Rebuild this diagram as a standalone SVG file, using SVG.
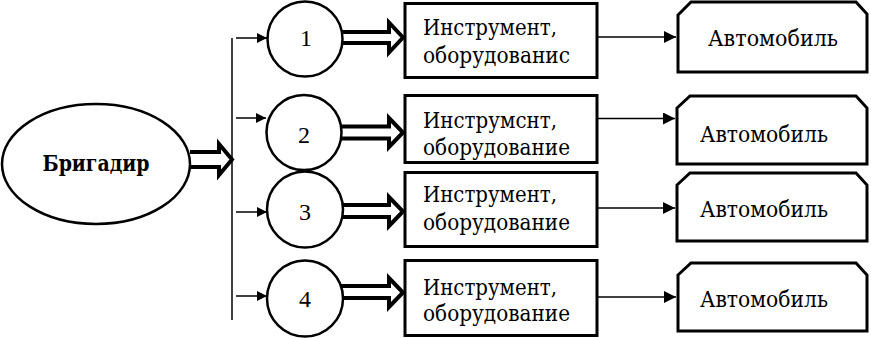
<svg xmlns="http://www.w3.org/2000/svg" width="871" height="338" viewBox="0 0 871 338">
<style>
.sh{fill:#fff;stroke:#000;stroke-width:2.5}
.bx{fill:#fff;stroke:#000;stroke-width:3}
.t{font-family:"DejaVu Serif","Liberation Serif",serif;font-size:22px;fill:#000}
.n{font-family:"Liberation Serif","DejaVu Serif",serif;font-size:24px;fill:#000;text-anchor:middle}
.b{font-family:"DejaVu Serif","Liberation Serif",serif;font-size:22px;font-weight:bold;fill:#000;text-anchor:middle}
.ln{fill:none;stroke:#000;stroke-width:1.5}
.ha{fill:#fff;stroke:#000;stroke-width:4;stroke-linejoin:miter}
</style>
<defs>
<marker id="ah" viewBox="0 0 12 12" refX="12" refY="6" markerWidth="12" markerHeight="12" markerUnits="userSpaceOnUse" orient="auto">
<path d="M0,0 L12,6 L0,12 Z" fill="#000"/>
</marker>
<marker id="ahs" viewBox="0 0 10 10" refX="10" refY="5" markerWidth="10" markerHeight="10" markerUnits="userSpaceOnUse" orient="auto">
<path d="M0,0 L10,5 L0,10 Z" fill="#000"/>
</marker>
</defs>
<g id="connectors">
<line class="ln" x1="232" y1="38" x2="232" y2="320"/>
<path class="ha" d="M190,152 H219 V144 L232,159.5 L219,175 V167 H190"/>
<line class="ln" x1="236" y1="38" x2="267" y2="38" marker-end="url(#ahs)"/>
<line class="ln" x1="236" y1="118" x2="266" y2="118" marker-end="url(#ahs)"/>
<line class="ln" x1="236" y1="212" x2="267" y2="212" marker-end="url(#ahs)"/>
<line class="ln" x1="236" y1="296" x2="267" y2="296" marker-end="url(#ahs)"/>
<path class="ha" d="M340,32 H389 V22.5 L403,37.5 L389,52.5 V43 H340"/>
<path class="ha" d="M340,126.5 H389 V118 L403,132.5 L389,147 V138.5 H340"/>
<path class="ha" d="M340,205 H389 V197 L403,211.5 L389,226 V217 H340"/>
<path class="ha" d="M340,286 H389 V278 L403,292.5 L389,307 V298 H340"/>
<line class="ln" x1="598" y1="37" x2="676" y2="37" marker-end="url(#ah)"/>
<line class="ln" x1="598" y1="118.5" x2="675" y2="118.5" marker-end="url(#ah)"/>
<line class="ln" x1="598" y1="208" x2="675" y2="208" marker-end="url(#ah)"/>
<line class="ln" x1="598" y1="297" x2="676" y2="297" marker-end="url(#ah)"/>
</g>
<g id="brigadir">
<ellipse class="sh" cx="96" cy="164" rx="94" ry="60"/>
<text class="b" x="96" y="171" textLength="107" lengthAdjust="spacingAndGlyphs">Бригадир</text>
</g>
<g id="c1"><circle class="sh" cx="305" cy="39" r="37.5"/><text class="n" x="306" y="46">1</text></g>
<g id="c2"><circle class="sh" cx="304" cy="132.5" r="37.5"/><text class="n" x="304" y="143">2</text></g>
<g id="c3"><circle class="sh" cx="305" cy="209.5" r="38"/><text class="n" x="305" y="220">3</text></g>
<g id="c4"><circle class="sh" cx="305" cy="298.5" r="38"/><text class="n" x="305" y="307">4</text></g>
<g id="i1"><rect class="bx" x="405" y="3.5" width="192" height="74"/><text class="t" x="423" y="35" textLength="134" lengthAdjust="spacingAndGlyphs">Инструмент,</text><text class="t" x="423" y="63" textLength="147" lengthAdjust="spacingAndGlyphs">оборудованис</text></g>
<g id="i2"><rect class="bx" x="405" y="95.5" width="192" height="67"/><text class="t" x="423" y="128" textLength="134" lengthAdjust="spacingAndGlyphs">Инструмснт,</text><text class="t" x="423" y="155" textLength="147" lengthAdjust="spacingAndGlyphs">оборудование</text></g>
<g id="i3"><rect class="bx" x="405" y="172.5" width="192" height="74"/><text class="t" x="423" y="202" textLength="134" lengthAdjust="spacingAndGlyphs">Инструмент,</text><text class="t" x="423" y="230" textLength="147" lengthAdjust="spacingAndGlyphs">оборудование</text></g>
<g id="i4"><rect class="bx" x="405" y="260.5" width="192" height="75"/><text class="t" x="423" y="295" textLength="134" lengthAdjust="spacingAndGlyphs">Инструмент,</text><text class="t" x="423" y="321" textLength="147" lengthAdjust="spacingAndGlyphs">оборудование</text></g>
<g id="a1"><path class="bx" d="M678,15 L691,2 H856 L867,14 V72 H678 Z"/><text class="t" x="708" y="46" textLength="130" lengthAdjust="spacingAndGlyphs">Автомобиль</text></g>
<g id="a2"><path class="bx" d="M677,108 L690,96 H856 L867,108 V164 H677 Z"/><text class="t" x="700" y="142" textLength="128" lengthAdjust="spacingAndGlyphs">Автомобиль</text></g>
<g id="a3"><path class="bx" d="M677,185 L690,173 H856 L867,185 V241 H677 Z"/><text class="t" x="700" y="217" textLength="128" lengthAdjust="spacingAndGlyphs">Автомобиль</text></g>
<g id="a4"><path class="bx" d="M678,275 L691,263 H856 L867,275 V331 H678 Z"/><text class="t" x="700" y="307" textLength="128" lengthAdjust="spacingAndGlyphs">Автомобиль</text></g>
</svg>
